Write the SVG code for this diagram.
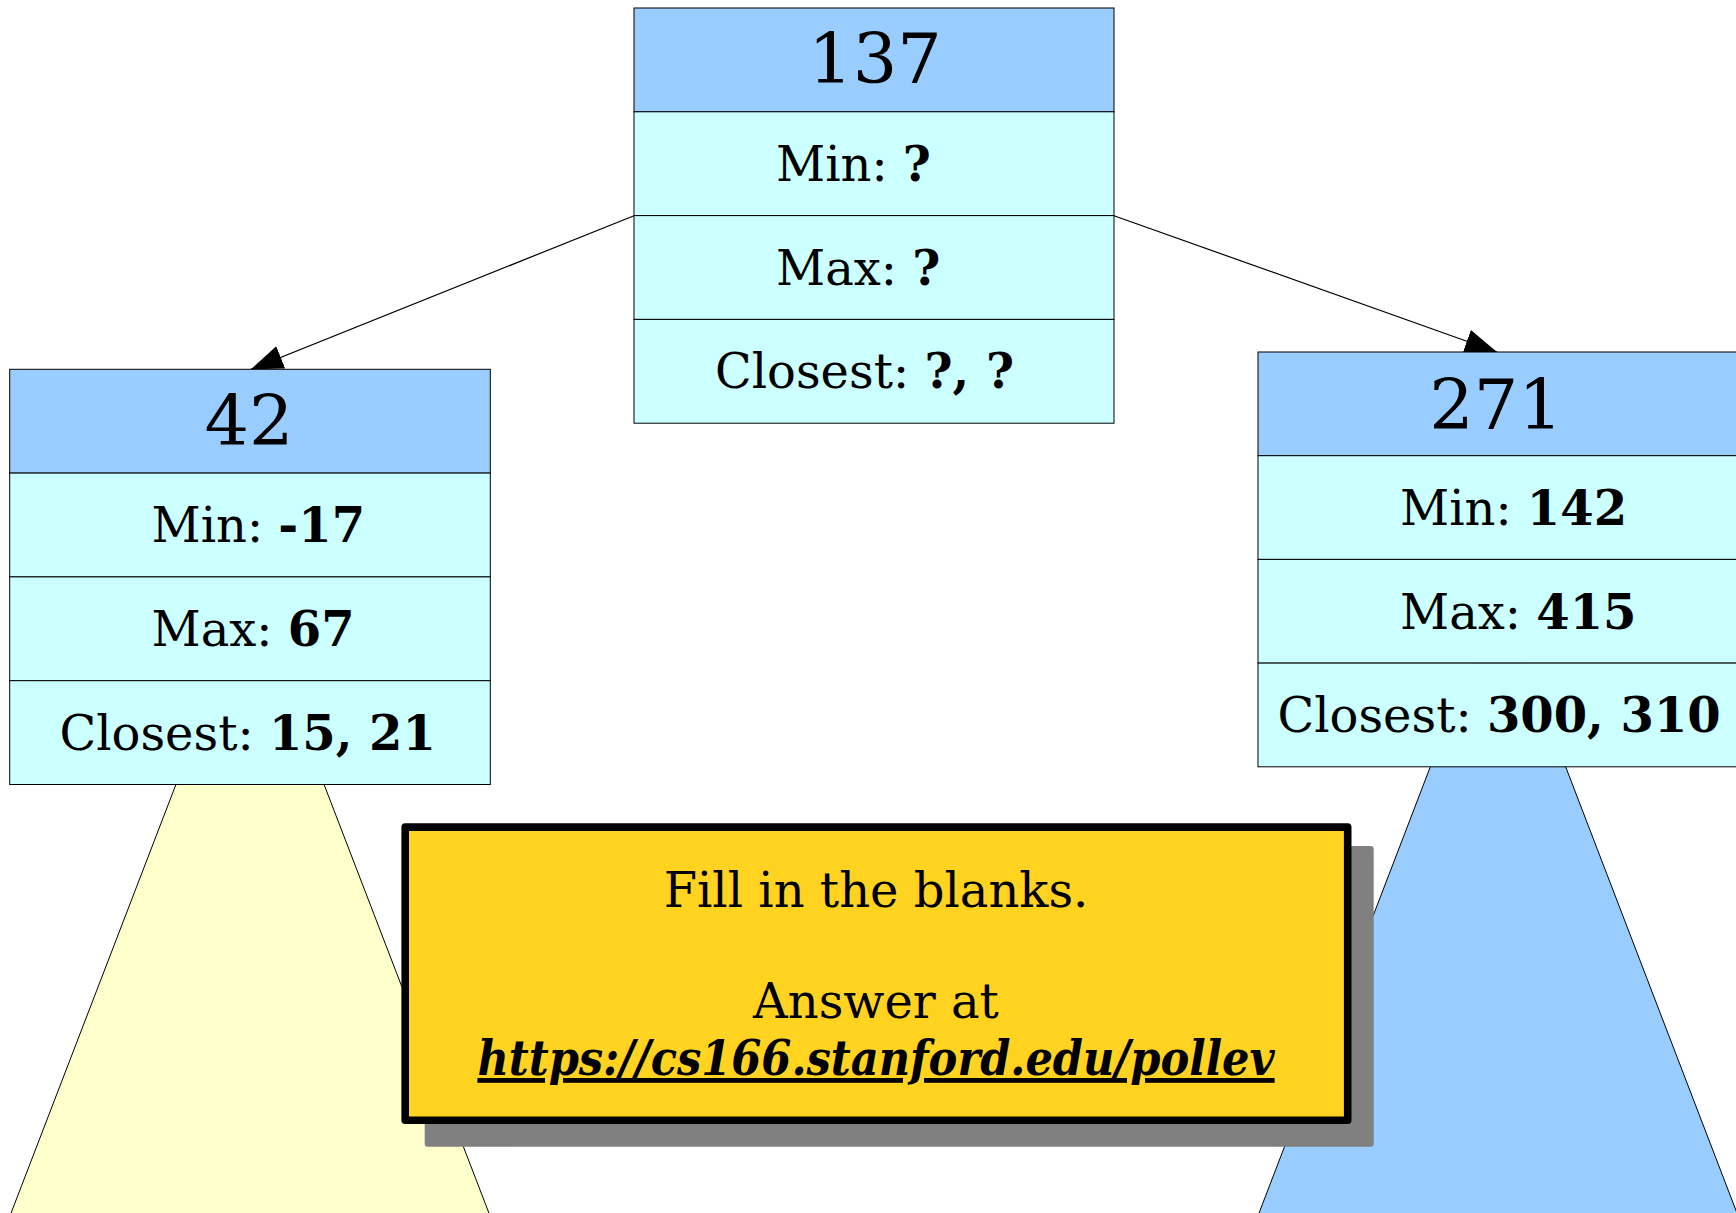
<svg xmlns="http://www.w3.org/2000/svg" width="1736" height="1213" viewBox="0 0 1736 1213">
  <defs>
    <style>
      text { font-family: "DejaVu Serif", "Liberation Serif", serif; fill: #000; }
      .head { fill: #99CCFF; stroke: #000; stroke-width: 1; }
      .row { fill: #CCFFFF; stroke: #000; stroke-width: 1; }
      .key { font-size: 70px; text-anchor: middle; }
      .lbl { font-size: 48px; }
      .b { font-weight: bold; }
      .edge { fill: none; stroke: #000; stroke-width: 1.2; }
      .subtree { stroke: #000; stroke-width: 1; }
      .note { font-size: 48px; text-anchor: middle; }
      .link { font-family: "DejaVu Serif Condensed", "DejaVu Serif", serif; font-stretch: condensed; font-weight: bold; font-style: italic; text-decoration: underline; }
    </style>
    <marker id="arrow" markerUnits="userSpaceOnUse" markerWidth="34" markerHeight="26" refX="32" refY="12" orient="auto">
      <path d="M0,0 L32,12 L0,24 Z" fill="#000"/>
    </marker>
  </defs>

  <!-- subtrees hanging under the child nodes -->
  <g id="subtree-left">
    <polygon class="subtree" points="250,592 -7,1260 507,1260" fill="#FFFFCC"/>
  </g>
  <g id="subtree-right">
    <polygon class="subtree" points="1498,590.5 1241,1260 1755,1260" fill="#99CCFF"/>
  </g>

  <!-- parent-to-child links -->
  <g id="connectors">
    <line class="edge" x1="634" y1="215.7" x2="251" y2="369.3" marker-end="url(#arrow)"/>
    <line class="edge" x1="1114" y1="215.7" x2="1497" y2="352" marker-end="url(#arrow)"/>
  </g>

  <!-- root node -->
  <g id="node-137">
    <rect class="head" x="634" y="8" width="480" height="103.8"/>
    <rect class="row" x="634" y="111.8" width="480" height="103.8"/>
    <rect class="row" x="634" y="215.6" width="480" height="103.8"/>
    <rect class="row" x="634" y="319.4" width="480" height="103.8"/>
    <text class="key" x="875" y="83">137</text>
    <text class="lbl" x="776" y="181">Min: <tspan class="b">?</tspan></text>
    <text class="lbl" x="776" y="285">Max: <tspan class="b">?</tspan></text>
    <text class="lbl" x="715" y="388">Closest: <tspan class="b">?, ?</tspan></text>
  </g>

  <!-- left child -->
  <g id="node-42">
    <rect class="head" x="9.7" y="369.3" width="480.6" height="103.8"/>
    <rect class="row" x="9.7" y="473.1" width="480.6" height="103.8"/>
    <rect class="row" x="9.7" y="576.9" width="480.6" height="103.8"/>
    <rect class="row" x="9.7" y="680.7" width="480.6" height="103.8"/>
    <text class="key" x="249" y="445">42</text>
    <text class="lbl" x="151.5" y="542">Min: <tspan class="b">-17</tspan></text>
    <text class="lbl" x="151.5" y="646">Max: <tspan class="b">67</tspan></text>
    <text class="lbl" x="59.5" y="749.5">Closest: <tspan class="b">15, 21</tspan></text>
  </g>

  <!-- right child -->
  <g id="node-271">
    <rect class="head" x="1258" y="352" width="480" height="103.7"/>
    <rect class="row" x="1258" y="455.7" width="480" height="103.7"/>
    <rect class="row" x="1258" y="559.4" width="480" height="103.7"/>
    <rect class="row" x="1258" y="663.1" width="480" height="103.7"/>
    <text class="key" x="1496" y="428.5">271</text>
    <text class="lbl" x="1400" y="525">Min: <tspan class="b">142</tspan></text>
    <text class="lbl" x="1400" y="628.5">Max: <tspan class="b">415</tspan></text>
    <text class="lbl" x="1277.5" y="732">Closest: <tspan class="b">300, 310</tspan></text>
  </g>

  <!-- prompt box with drop shadow -->
  <g id="prompt">
    <rect x="424.7" y="846" width="949" height="300.7" rx="3" fill="#808080"/>
    <rect x="405.2" y="827.1" width="942.5" height="293.2" fill="#FFD320" stroke="#000" stroke-width="7.6" stroke-linejoin="round"/>
    <text class="note" x="876" y="906.7">Fill in the blanks.</text>
    <text class="note" x="876" y="1018.3">Answer at</text>
    <text class="note" x="876" y="1075"><tspan class="link">https://cs166.stanford.edu/pollev</tspan></text>
  </g>
</svg>
